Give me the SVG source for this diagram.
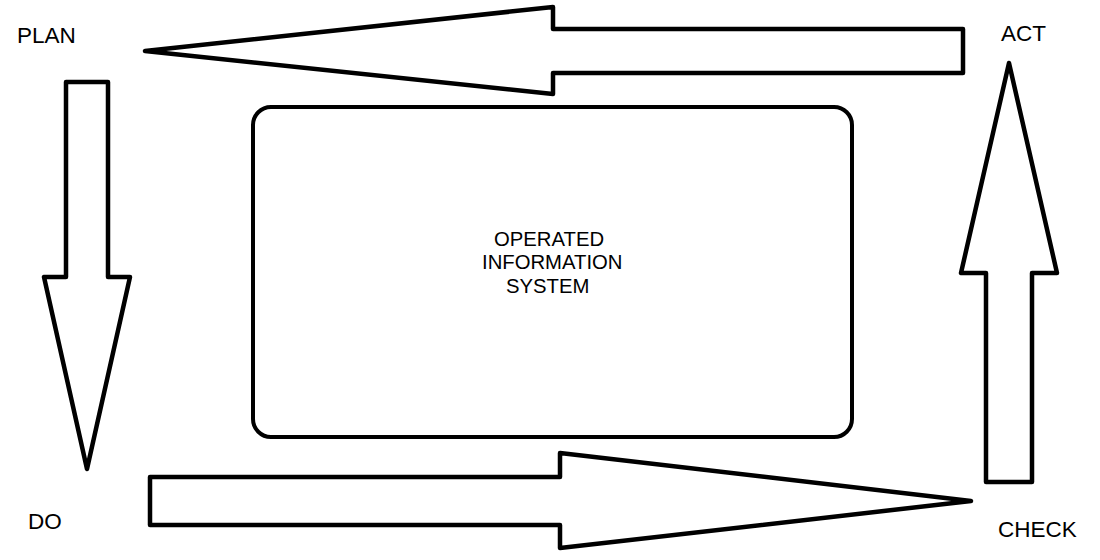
<svg xmlns="http://www.w3.org/2000/svg" width="1100" height="560" viewBox="0 0 1100 560">
<style>
.arrow{fill:#fff;stroke:#000;stroke-width:4.5;stroke-linejoin:round}
.box{fill:#fff;stroke:#000;stroke-width:4}
.lbl{font-family:"Liberation Sans",Arial,sans-serif;font-size:22.5px;fill:#000}
.txt{font-family:"Liberation Sans",Arial,sans-serif;font-size:20.3px;fill:#000}
</style>
<rect width="1100" height="560" fill="#fff"/>
<g id="connectors">
<polygon id="arrow-act-plan" class="arrow" points="963,29 553,29 553,7 145,51 553,94 553,73 963,73"/>
<polygon id="arrow-plan-do" class="arrow" points="66,82 108,82 108,277 130,277 87,469 44,277 66,277"/>
<polygon id="arrow-do-check" class="arrow" points="150,477 560,477 560,453 971,501 560,548 560,525 150,525"/>
<polygon id="arrow-check-act" class="arrow" points="986,482 1032,482 1032,273 1057,273 1009,63 961,273 986,273"/>
</g>
<g id="node-system">
<rect class="box" x="253" y="107" width="599" height="330" rx="18" ry="18"/>
<text class="txt" x="494" y="246">OPERATED</text>
<text class="txt" x="482" y="269">INFORMATION</text>
<text class="txt" x="506" y="293">SYSTEM</text>
</g>
<g id="node-plan"><text class="lbl" x="17" y="43">PLAN</text></g>
<g id="node-act"><text class="lbl" x="1001" y="41">ACT</text></g>
<g id="node-do"><text class="lbl" x="28" y="529">DO</text></g>
<g id="node-check"><text class="lbl" x="998" y="537">CHECK</text></g>
</svg>
